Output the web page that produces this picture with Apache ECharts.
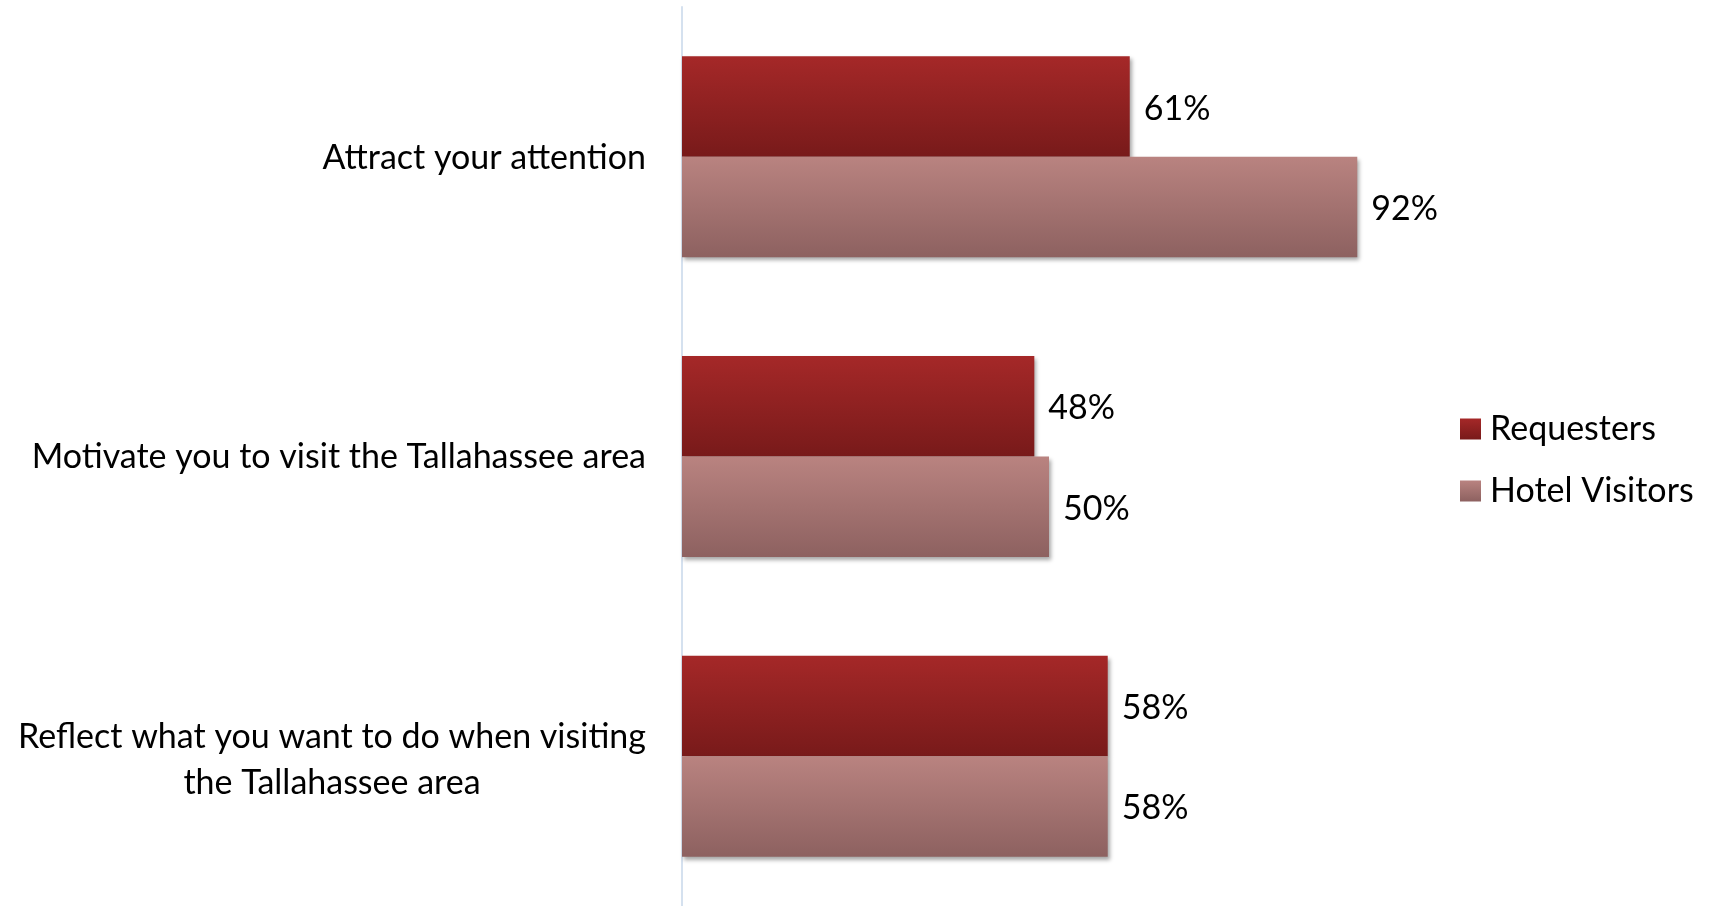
<!DOCTYPE html>
<html>
<head>
<meta charset="utf-8">
<style>
  html, body { margin: 0; padding: 0; background: #fff; }
  #chart { width: 1709px; height: 906px; }
</style>
<script src="https://cdn.jsdelivr.net/npm/echarts@6/dist/echarts.min.js"></script>
</head>
<body>
<div id="chart"></div>
<script>
// Survey items, listed top to bottom
const categories = [
  'Attract your attention',
  'Motivate you to visit the Tallahassee area',
  'Reflect what you want to do when visiting\nthe Tallahassee area'
];
const seriesNames = ['Requesters', 'Hotel Visitors'];
const requesters = [61, 48, 58];
const hotelVisitors = [92, 50, 58];

const FONT = 'Lato, "Open Sans", sans-serif';
const FS = 34;

function vGrad(top, bottom) {
  return new echarts.graphic.LinearGradient(0, 0, 0, 1, [
    { offset: 0, color: top },
    { offset: 1, color: bottom }
  ]);
}

const barShadow = {
  shadowColor: 'rgba(0,0,0,0.35)',
  shadowBlur: 4,
  shadowOffsetX: 2,
  shadowOffsetY: 3
};

const valueLabel = {
  show: true,
  position: 'right',
  distance: 14,
  offset: [0, 2],
  formatter: '{c}%',
  color: '#000',
  fontFamily: FONT,
  fontSize: FS
};

const chart = echarts.init(document.getElementById('chart'), null, { renderer: 'canvas' });
chart.setOption({
  animation: false,
  backgroundColor: '#fff',
  grid: { left: 682, top: 7, width: 734, height: 903, containLabel: false },
  legend: {
    orient: 'vertical',
    left: 1455,
    top: 407,
    itemWidth: 21,
    itemHeight: 21,
    itemGap: 28,
    icon: 'rect',
    data: seriesNames,
    textStyle: { fontFamily: FONT, fontSize: FS, lineHeight: 30, color: '#000', padding: [0, 0, 0, 4] }
  },
  xAxis: {
    type: 'value',
    min: 0,
    max: 100,
    show: false
  },
  yAxis: {
    type: 'category',
    inverse: true,
    data: categories,
    axisLine: { show: true, lineStyle: { color: '#D5E1EF', width: 2 } },
    axisTick: { show: false },
    splitLine: { show: false },
    axisLabel: {
      margin: 36,
      align: 'right',
      lineHeight: 46,
      fontFamily: FONT,
      fontSize: FS,
      color: '#000',
      // wrapped labels: lines centred on each other, nudged slightly down
      formatter: function (v) {
        const lines = v.split('\n');
        if (lines.length === 1) return '{c|' + v + '}';
        return lines.map(function (l) { return '{f|' + l + '}'; }).join('\n');
      },
      rich: {
        c: { align: 'center', fontFamily: FONT, fontSize: FS, color: '#000', lineHeight: 46, padding: [2, 0, 0, 0] },
        f: { align: 'center', fontFamily: FONT, fontSize: FS, color: '#000', lineHeight: 46, padding: [8, 0, 0, 0] }
      }
    }
  },
  series: [
    {
      name: seriesNames[0],
      type: 'bar',
      data: requesters,
      barWidth: 100.5,
      barGap: '0%',
      itemStyle: Object.assign({ color: vGrad('#A52828', '#781A1A') }, barShadow),
      label: valueLabel
    },
    {
      name: seriesNames[1],
      type: 'bar',
      data: hotelVisitors,
      barWidth: 100.5,
      barGap: '0%',
      itemStyle: Object.assign({ color: vGrad('#B98380', '#8D6160') }, barShadow),
      label: valueLabel
    }
  ]
});
</script>
</body>
</html>
